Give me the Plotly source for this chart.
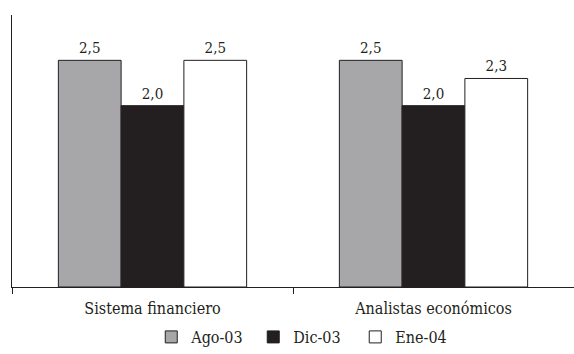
import plotly.graph_objects as go

categories = ["Sistema financiero", "Analistas económicos"]
series_names = ["Ago-03", "Dic-03", "Ene-04"]
ago_03 = [2.5, 2.5]
dic_03 = [2.0, 2.0]
ene_04 = [2.5, 2.3]

series_values = [ago_03, dic_03, ene_04]
fill_colors = ["#a7a7a9", "#231f20", "#ffffff"]

FONT = "DejaVu Serif Condensed, DejaVu Serif, serif"


def fmt(v):
    return f"{v:.1f}".replace(".", ",")


fig = go.Figure()
for name, vals, color in zip(series_names, series_values, fill_colors):
    fig.add_trace(go.Bar(
        x=categories,
        y=vals,
        name=name,
        marker=dict(color=color, line=dict(color="#231f20", width=1)),
        text=[fmt(v) for v in vals],
        textposition="outside",
        textfont=dict(family=FONT, size=15, color="#231f20"),
        cliponaxis=False,
    ))

fig.update_layout(
    width=574,
    height=354,
    margin=dict(l=12, r=0, t=15, b=64),
    paper_bgcolor="white",
    plot_bgcolor="white",
    barmode="group",
    bargap=0.33,
    bargroupgap=0,
    showlegend=True,
    legend=dict(
        orientation="h",
        x=0.52,
        xanchor="center",
        y=-0.185,
        yanchor="middle",
        font=dict(family=FONT, size=16, color="#231f20"),
        itemwidth=30,
        entrywidth=57,
        traceorder="normal",
    ),
    font=dict(family=FONT, color="#231f20"),
)

fig.update_xaxes(
    type="category",
    showline=True,
    linecolor="#231f20",
    linewidth=1,
    ticks="outside",
    tickson="boundaries",
    ticklen=6,
    tickcolor="#231f20",
    ticklabelstandoff=7,
    tickfont=dict(family=FONT, size=16, color="#231f20"),
    showgrid=False,
)
fig.update_yaxes(
    range=[0, 3],
    showline=True,
    linecolor="#231f20",
    linewidth=1,
    showticklabels=False,
    ticks="",
    showgrid=False,
    zeroline=False,
)

fig.write_html("out.html")
